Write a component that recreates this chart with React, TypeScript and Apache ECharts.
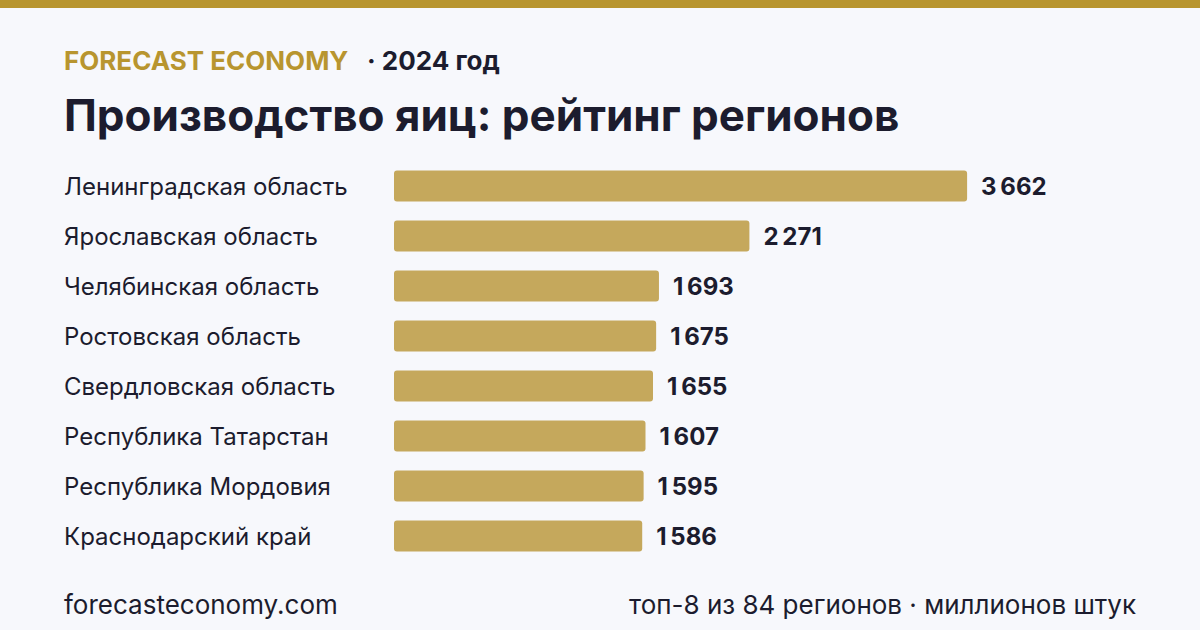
import React, { useEffect, useRef } from "react";
import * as echarts from "echarts";

const regions = [
  "Ленинградская область",
  "Ярославская область",
  "Челябинская область",
  "Ростовская область",
  "Свердловская область",
  "Республика Татарстан",
  "Республика Мордовия",
  "Краснодарский край",
];
const values = [3662, 2271, 1693, 1675, 1655, 1607, 1595, 1586];

const brand = "FORECAST ECONOMY";
const yearText = "· 2024 год";
const titleText = "Производство яиц: рейтинг регионов";
const siteText = "forecasteconomy.com";
const noteText = "топ-8 из 84 регионов · миллионов штук";

const FONT = "Inter, 'Noto Sans', sans-serif";
const DARK = "#1c1c2e";
const GOLD = "#b8952f";
const BAR = "#c5a85c";
const BG = "#f7f8fc";

const fmt = (v: number) => {
  const s = String(v);
  return s.length > 3 ? s.slice(0, s.length - 3) + "\u2009" + s.slice(-3) : s;
};

export default function App() {
  const ref = useRef<HTMLDivElement>(null);
  useEffect(() => {
    if (!ref.current) return;
    const chart = echarts.init(ref.current, undefined, { renderer: "svg" });
    chart.setOption({
      animation: false,
      backgroundColor: BG,
      grid: { left: 394, right: 180, top: 161, height: 400 },
      xAxis: {
        type: "value",
        min: 0,
        max: 4000,
        show: false,
      },
      yAxis: {
        type: "category",
        inverse: true,
        data: regions,
        axisLine: { show: false },
        axisTick: { show: false },
        splitLine: { show: false },
        axisLabel: {
          margin: 330,
          align: "left",
          color: DARK,
          fontFamily: FONT,
          fontSize: 24,
        },
      },
      series: [
        {
          type: "bar",
          data: values,
          barWidth: 31,
          itemStyle: { color: BAR, borderRadius: 3 },
          label: {
            show: true,
            position: "right",
            distance: 14,
            color: DARK,
            fontFamily: FONT,
            fontSize: 24,
            fontWeight: 700,
            formatter: (p: any) => fmt(p.value),
          },
        },
      ],
      graphic: [
        { type: "rect", left: 0, top: 0, shape: { width: 1200, height: 8 }, style: { fill: GOLD } },
        {
          type: "text",
          left: 64,
          top: 47,
          style: { text: brand, fill: GOLD, font: `700 26px ${FONT}` },
        },
        {
          type: "text",
          left: 367,
          top: 47,
          style: { text: yearText, fill: DARK, font: `700 26px ${FONT}` },
        },
        {
          type: "text",
          left: 64,
          top: 93,
          style: { text: titleText, fill: DARK, font: `700 44px ${FONT}` },
        },
        {
          type: "text",
          left: 64,
          top: 591,
          style: { text: siteText, fill: DARK, font: `400 26px ${FONT}` },
        },
        {
          type: "text",
          right: 64,
          top: 591,
          style: { text: noteText, fill: DARK, font: `400 26px ${FONT}` },
        },
      ],
    });
    return () => chart.dispose();
  }, []);
  return <div ref={ref} style={{ width: 1200, height: 630, position: "fixed", left: 0, top: 0 }} />;
}
